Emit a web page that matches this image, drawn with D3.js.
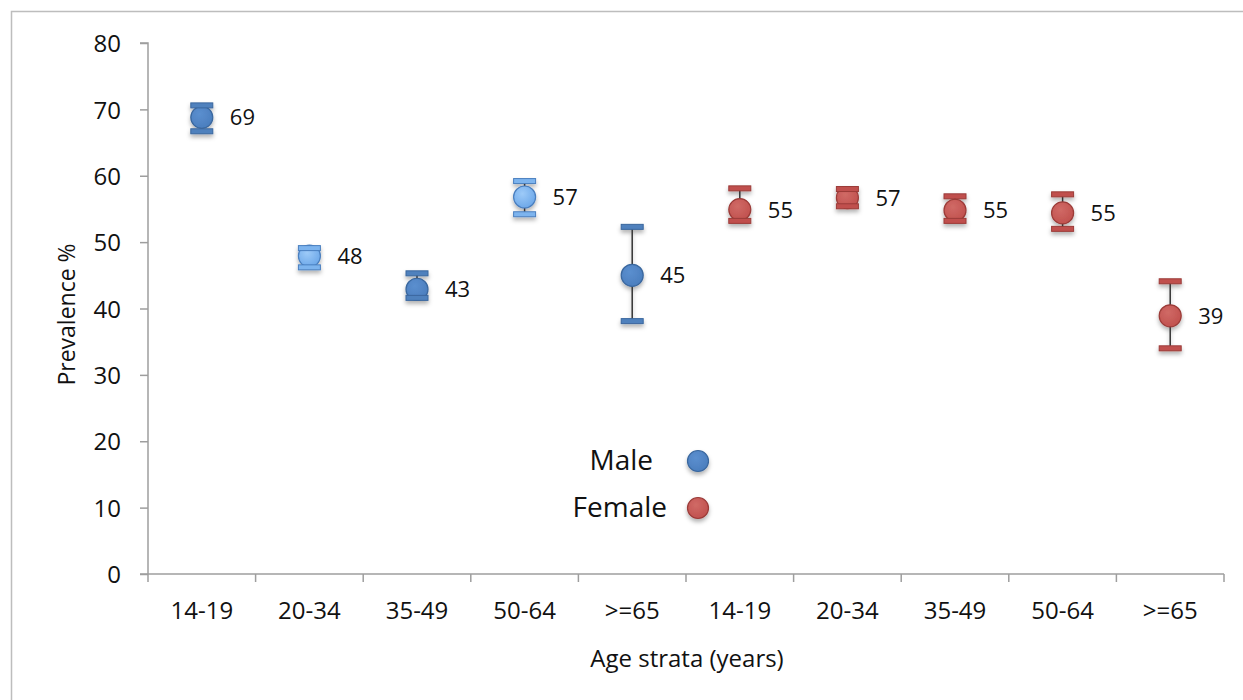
<!DOCTYPE html>
<html>
<head>
<meta charset="utf-8">
<script src="https://cdn.jsdelivr.net/npm/d3@7"></script>
<style>
  body { margin: 0; background: #fff; }
  text { font-family: "Open Sans", "Liberation Sans", sans-serif; fill: #111; }
</style>
</head>
<body>
<div id="chart"></div>
<script>
const ageGroups = ["14-19", "20-34", "35-49", "50-64", ">=65"];
const sexes = ["Male", "Female"];
const maleValues = [69, 48, 43, 57, 45];
const maleLower = [66.7, 46.2, 41.6, 54.2, 38.1];
const maleUpper = [70.6, 49.1, 45.3, 59.2, 52.3];
const femaleValues = [55, 57, 55, 55, 39];
const femaleLower = [53.2, 55.4, 53.2, 52.0, 34.0];
const femaleUpper = [58.1, 58.0, 56.9, 57.2, 44.1];
// plotted centre (labels are rounded)
const malePlot = [68.8, 47.9, 42.9, 56.8, 45.0];
const femalePlot = [54.9, 56.7, 54.8, 54.4, 38.9];
const yTicks = [0, 10, 20, 30, 40, 50, 60, 70, 80];

const width = 1243, height = 700;
const margin = { top: 43, right: 19, bottom: 126, left: 148 };

const points = [];
ageGroups.forEach((g, i) => points.push({ sex: "Male", group: g, key: "M" + i, v: maleValues[i], p: malePlot[i], lo: maleLower[i], hi: maleUpper[i], light: i === 1 || i === 3 }));
ageGroups.forEach((g, i) => points.push({ sex: "Female", group: g, key: "F" + i, v: femaleValues[i], p: femalePlot[i], lo: femaleLower[i], hi: femaleUpper[i], light: false }));

const svg = d3.select("#chart").append("svg")
    .attr("width", width)
    .attr("height", height);

const defs = svg.append("defs");
const grad = (id, c1, c2) => {
    const g = defs.append("radialGradient").attr("id", id).attr("cx", "40%").attr("cy", "35%").attr("r", "70%");
    g.append("stop").attr("offset", "0%").attr("stop-color", c1);
    g.append("stop").attr("offset", "100%").attr("stop-color", c2);
};
grad("gMale", "#5b8fcf", "#4a7dbd");
grad("gMaleLight", "#9dcaf8", "#6aa6e8");
grad("gFemale", "#d06a66", "#c0504d");
const shadow = defs.append("filter").attr("id", "shadow").attr("x", "-50%").attr("y", "-50%").attr("width", "200%").attr("height", "200%");
shadow.append("feDropShadow").attr("dx", 0).attr("dy", 3).attr("stdDeviation", 2).attr("flood-color", "#000").attr("flood-opacity", 0.3);

svg.append("rect")
    .attr("x", 11.5).attr("y", 11.5)
    .attr("width", width + 20).attr("height", height + 20)
    .attr("fill", "none").attr("stroke", "#bdbdbd").attr("stroke-width", 1.5);

const x = d3.scaleBand()
    .domain(points.map(d => d.key))
    .range([margin.left, width - margin.right]);

const y = d3.scaleLinear()
    .domain([0, 80])
    .range([height - margin.bottom, margin.top]);

// y axis
const yAxis = svg.append("g")
    .attr("transform", `translate(${margin.left},0)`)
    .call(d3.axisLeft(y).tickValues(yTicks).tickSize(8).tickPadding(19));
yAxis.select(".domain").attr("stroke", "#9e9e9e").attr("stroke-width", 1.5).attr("d", `M-8,${y(80)}H0V${y(0)}`);
yAxis.selectAll(".tick line").attr("stroke", "#9e9e9e").attr("stroke-width", 1.5);
yAxis.selectAll(".tick text").attr("font-size", 24).attr("dy", "0.36em").attr("fill", "#111");

// x axis
const xAxis = svg.append("g")
    .attr("transform", `translate(0,${y(0)})`)
    .call(d3.axisBottom(x).tickSize(0).tickPadding(28).tickFormat(k => points.find(p => p.key === k).group));
xAxis.select(".domain").attr("stroke", "#9e9e9e").attr("stroke-width", 1.5).attr("d", `M${margin.left - 8},0H${width - margin.right}`);
xAxis.selectAll(".tick text").attr("font-size", 24).attr("fill", "#111");
const bounds = d3.range(points.length + 1).map(i => margin.left + i * x.bandwidth());
xAxis.selectAll("line.sep")
    .data(bounds)
    .enter().append("line")
    .attr("class", "sep")
    .attr("x1", d => d).attr("x2", d => d)
    .attr("y1", 0).attr("y2", 8)
    .attr("stroke", "#9e9e9e").attr("stroke-width", 1.5);

// axis titles
svg.append("text")
    .attr("x", (margin.left + width - margin.right) / 2 + 1)
    .attr("y", 667)
    .attr("text-anchor", "middle")
    .attr("font-size", 24)
    .text("Age strata (years)");

svg.append("text")
    .attr("transform", `translate(75,${(y(0) + y(80)) / 2 + 6}) rotate(-90)`)
    .attr("text-anchor", "middle")
    .attr("font-size", 23)
    .text("Prevalence %");

const fillOf = d => d.sex === "Male" ? (d.light ? "url(#gMaleLight)" : "url(#gMale)") : "url(#gFemale)";
const capFill = d => d.sex === "Male" ? (d.light ? "#7db4ee" : "#4f81bd") : "#c0504d";
const strokeOf = d => d.sex === "Male" ? (d.light ? "#4a7fbf" : "#3a679e") : "#9b3b38";
const cx = d => x(d.key) + x.bandwidth() / 2;

const marks = svg.append("g").selectAll("g.pt")
    .data(points)
    .enter().append("g")
    .attr("class", "pt")
    .attr("filter", "url(#shadow)");

marks.append("line")
    .attr("x1", cx).attr("x2", cx)
    .attr("y1", d => y(d.hi)).attr("y2", d => y(d.lo))
    .attr("stroke", "#333").attr("stroke-width", 1.5);

marks.append("circle")
    .attr("cx", cx).attr("cy", d => y(d.p))
    .attr("r", 11)
    .attr("fill", fillOf)
    .attr("stroke", strokeOf).attr("stroke-width", 1.2);

marks.selectAll("rect.cap")
    .data(d => [{ d, v: d.hi }, { d, v: d.lo }])
    .enter().append("rect")
    .attr("class", "cap")
    .attr("x", c => cx(c.d) - 11).attr("y", c => y(c.v) - 2.5)
    .attr("width", 22).attr("height", 5)
    .attr("fill", c => capFill(c.d))
    .attr("stroke", c => strokeOf(c.d)).attr("stroke-width", 1);

svg.append("g").selectAll("text.lbl")
    .data(points)
    .enter().append("text")
    .attr("class", "lbl")
    .attr("x", d => cx(d) + 28)
    .attr("y", d => y(d.p) + 8)
    .attr("font-size", 22)
    .text(d => d.v);

// legend
const legendY = { Male: 461, Female: 508 };
const legend = svg.append("g").selectAll("g.leg")
    .data(sexes)
    .enter().append("g")
    .attr("class", "leg");
legend.append("text")
    .attr("x", d => d === "Male" ? 653 : 667)
    .attr("y", d => legendY[d] + 9)
    .attr("text-anchor", "end")
    .attr("font-size", 28)
    .text(d => d);
legend.append("circle")
    .attr("cx", 698).attr("cy", d => legendY[d])
    .attr("r", 10.5)
    .attr("fill", d => d === "Male" ? "url(#gMale)" : "url(#gFemale)")
    .attr("stroke", d => d === "Male" ? "#3a679e" : "#9b3b38").attr("stroke-width", 1.2)
    .attr("filter", "url(#shadow)");
</script>
</body>
</html>
